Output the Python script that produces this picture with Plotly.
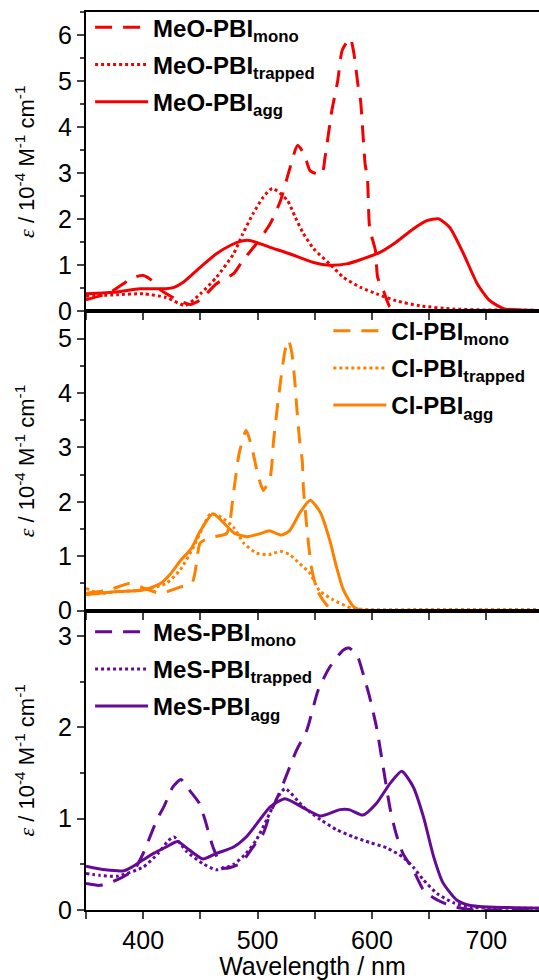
import plotly.graph_objects as go
from plotly.subplots import make_subplots

# ---------------- data (wavelength in nm, epsilon in 10^4 M^-1 cm^-1) ----------------
meo_mono_x = [350, 370, 391, 400, 406, 416, 430, 441, 450, 464, 479, 487, 500, 511, 520, 527, 535, 541, 546, 556, 559, 565, 570, 574, 581, 584, 588, 590, 594, 596, 598, 603, 605, 610, 616, 625, 650, 700, 746]
meo_mono_y = [0.25, 0.4, 0.73, 0.78, 0.7, 0.45, 0.25, 0.15, 0.25, 0.6, 0.82, 1.1, 1.5, 1.9, 2.4, 3.0, 3.6, 3.4, 3.05, 2.97, 3.35, 4.37, 5.0, 5.67, 5.93, 5.63, 4.87, 4.58, 3.2, 2.9, 1.8, 1.32, 0.73, 0.45, 0.08, 0.0, 0.0, 0.0, 0.0]

meo_trap_x = [350, 377, 400, 420, 437, 450, 464, 479, 487, 496, 505, 513, 526, 533, 540, 549, 563, 575, 590, 604, 621, 642, 671, 700, 746]
meo_trap_y = [0.33, 0.36, 0.38, 0.3, 0.13, 0.38, 0.74, 1.25, 1.68, 2.12, 2.48, 2.67, 2.41, 2.04, 1.69, 1.36, 1.03, 0.74, 0.52, 0.38, 0.23, 0.12, 0.05, 0.03, 0.02]

meo_agg_x = [350, 377, 397, 420, 427, 435, 450, 464, 476, 485, 493, 511, 528, 549, 563, 578, 592, 607, 621, 636, 648, 658, 668, 680, 692, 703, 715, 730, 746]
meo_agg_y = [0.38, 0.42, 0.49, 0.49, 0.52, 0.63, 0.96, 1.25, 1.43, 1.52, 1.54, 1.39, 1.25, 1.06, 1.0, 1.03, 1.14, 1.28, 1.5, 1.79, 1.97, 2.01, 1.82, 1.25, 0.6, 0.23, 0.06, 0.03, 0.02]

cl_mono_x = [350, 370, 388, 400, 415, 429, 443, 450, 460, 473, 479, 484, 490, 495, 500, 505, 511, 514, 518, 521, 524, 527, 530, 533, 534, 537, 539, 540, 543, 547, 552, 559, 565, 600, 746]
cl_mono_y = [0.32, 0.38, 0.5, 0.42, 0.32, 0.41, 0.53, 1.25, 1.35, 1.42, 2.18, 2.9, 3.31, 3.0, 2.52, 2.21, 2.45, 3.13, 3.87, 4.36, 4.78, 4.97, 4.73, 4.1, 3.8, 3.07, 2.77, 2.27, 1.54, 0.8, 0.38, 0.14, 0.02, 0.0, 0.0]

cl_trap_x = [350, 362, 377, 400, 420, 432, 444, 455, 459, 468, 479, 488, 499, 510, 520, 528, 537, 546, 554, 566, 583, 600, 650, 746]
cl_trap_y = [0.41, 0.32, 0.35, 0.38, 0.5, 0.74, 1.17, 1.66, 1.78, 1.72, 1.53, 1.24, 1.06, 1.03, 1.09, 1.03, 0.86, 0.68, 0.37, 0.2, 0.04, 0.02, 0.02, 0.02]

cl_agg_x = [350, 377, 400, 415, 424, 433, 442, 450, 461, 471, 480, 491, 503, 510, 521, 528, 537, 546, 555, 563, 569, 575, 584, 592, 620, 746]
cl_agg_y = [0.29, 0.35, 0.38, 0.5, 0.68, 0.93, 1.14, 1.47, 1.78, 1.6, 1.42, 1.36, 1.42, 1.47, 1.39, 1.47, 1.8, 2.03, 1.8, 1.3, 0.8, 0.38, 0.07, 0.01, 0.0, 0.0]

mes_mono_x = [350, 362, 377, 392, 400, 412, 418, 426, 433, 438, 449, 454, 461, 470, 485, 496, 505, 511, 520, 534, 543, 553, 563, 575, 580, 587, 592, 598, 604, 610, 616, 621, 627, 636, 645, 653, 662, 674, 690, 746]
mes_mono_y = [0.29, 0.27, 0.33, 0.44, 0.62, 0.99, 1.13, 1.35, 1.43, 1.35, 1.17, 0.99, 0.69, 0.46, 0.51, 0.69, 0.84, 1.06, 1.31, 1.75, 1.97, 2.41, 2.66, 2.85, 2.87, 2.79, 2.6, 2.33, 2.0, 1.55, 1.1, 0.84, 0.62, 0.44, 0.22, 0.14, 0.08, 0.03, 0.0, 0.0]

mes_trap_x = [350, 362, 377, 400, 413, 422, 427, 438, 452, 464, 479, 490, 499, 508, 516, 524, 540, 555, 569, 584, 598, 613, 627, 636, 645, 657, 671, 686, 746]
mes_trap_y = [0.4, 0.38, 0.37, 0.47, 0.62, 0.76, 0.8, 0.64, 0.51, 0.44, 0.5, 0.62, 0.77, 0.99, 1.2, 1.33, 1.13, 0.99, 0.88, 0.8, 0.74, 0.68, 0.58, 0.47, 0.33, 0.18, 0.08, 0.03, 0.02]

mes_agg_x = [350, 367, 383, 390, 400, 409, 420, 430, 438, 452, 464, 479, 490, 502, 511, 524, 540, 555, 572, 580, 592, 604, 616, 626, 636, 645, 654, 662, 674, 686, 746]
mes_agg_y = [0.48, 0.44, 0.43, 0.47, 0.55, 0.62, 0.69, 0.75, 0.68, 0.56, 0.62, 0.69, 0.8, 0.99, 1.13, 1.22, 1.12, 1.03, 1.1, 1.1, 1.04, 1.17, 1.39, 1.52, 1.35, 1.02, 0.58, 0.3, 0.11, 0.05, 0.02]

x_tick_vals = [400, 500, 600, 700]
x_tick_text = ["400", "500", "600", "700"]

panels = [
    ("MeO", "#f50000", [(meo_mono_x, meo_mono_y, "mono"), (meo_trap_x, meo_trap_y, "trapped"), (meo_agg_x, meo_agg_y, "agg")], 6.5),
    ("Cl", "#ff8000", [(cl_mono_x, cl_mono_y, "mono"), (cl_trap_x, cl_trap_y, "trapped"), (cl_agg_x, cl_agg_y, "agg")], 5.5),
    ("MeS", "#650a96", [(mes_mono_x, mes_mono_y, "mono"), (mes_trap_x, mes_trap_y, "trapped"), (mes_agg_x, mes_agg_y, "agg")], 3.28),
]

dashes = {"mono": "17px,11px", "trapped": "dot", "agg": "solid"}

FONT = "Arial, 'Liberation Sans', sans-serif"

fig = make_subplots(rows=3, cols=1, shared_xaxes=False, vertical_spacing=0.0)

legend_names = ["legend", "legend2", "legend3"]
for i, (name, color, series, ymax) in enumerate(panels):
    row = i + 1
    for xs, ys, kind in series:
        fig.add_trace(go.Scatter(
            x=xs, y=ys, mode="lines",
            line=dict(color=color, width=3, dash=dashes[kind], shape="spline", smoothing=0.6),
            name=f"<b>{name}-PBI<sub>{kind}</sub></b>",
            legend=legend_names[i],
            legendgroup=f"{name}{kind}",
        ), row=row, col=1)
    fig.update_yaxes(
        range=[0, ymax], dtick=1, tick0=0,
        ticks="outside", ticklen=7, tickwidth=2,
        minor=dict(dtick=0.5, ticks="outside", ticklen=4, tickwidth=2),
        showline=True, linewidth=2, linecolor="black",
        showgrid=False, zeroline=False,
        tickfont=dict(size=25, color="black", family=FONT),
        title=dict(
            text="<span style='font-family:Liberation Serif'><i>ε</i></span> / 10<sup>-4</sup> M<sup>-1</sup> cm<sup>-1</sup>",
            font=dict(size=22, color="black", family=FONT), standoff=17),
        row=row, col=1,
    )
    fig.update_xaxes(
        range=[350, 746], tickvals=x_tick_vals, ticktext=x_tick_text,
        ticks="outside", ticklen=7, tickwidth=2,
        minor=dict(tickvals=[350, 450, 550, 650, 750], ticks="outside", ticklen=7, tickwidth=2),
        showline=True, linewidth=2, linecolor="black", mirror=True,
        showgrid=False, zeroline=False,
        showticklabels=(row == 3),
        tickfont=dict(size=25, color="black", family=FONT),
        row=row, col=1,
    )

fig.update_xaxes(title=dict(text="Wavelength / nm", font=dict(size=25, color="black", family=FONT), standoff=0), row=3, col=1)

leg_common = dict(
    font=dict(size=24, color="black", family=FONT),
    bgcolor="rgba(0,0,0,0)", borderwidth=0,
    itemwidth=53, tracegroupgap=3, xanchor="left", yanchor="top",
)
fig.update_layout(
    legend=dict(x=0.009, y=1.0075, **leg_common),
    legend2=dict(x=0.535, y=0.6697, **leg_common),
    legend3=dict(x=0.009, y=0.3345, **leg_common),
)

fig.update_layout(
    width=539, height=980,
    margin=dict(l=86, r=0, t=12, b=70),
    plot_bgcolor="white", paper_bgcolor="white",
    font=dict(family=FONT, color="black"),
    showlegend=True,
)

fig.write_html("out.html", config={"displayModeBar": False},
               post_script="document.body.style.margin='0';document.body.style.padding='0';")
